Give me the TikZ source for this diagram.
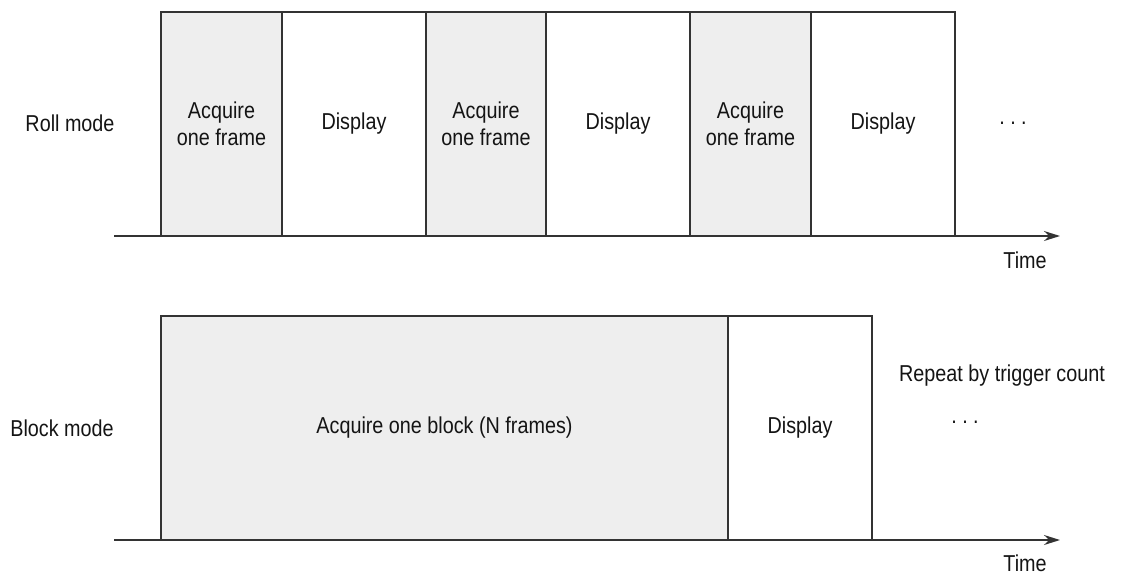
\documentclass[tikz,border=0pt]{standalone}
\usepackage{fontspec}
\setmainfont[FakeStretch=0.86]{Liberation Sans}
\usetikzlibrary{arrows.meta}
\definecolor{linec}{HTML}{333333}
\definecolor{fillc}{HTML}{EEEEEE}
\tikzset{
  base/.style={font=\fontsize{23}{27}\selectfont, text=black!92},
  box/.style={base, draw=linec, line width=1.3pt, inner sep=0pt, outer sep=0pt, align=center},
  acq/.style={box, fill=fillc},
  disp/.style={box, fill=white},
  lbl/.style={base, inner sep=0pt},
  axis/.style={draw=linec, line width=1.6pt, -{Stealth[length=16pt,width=10pt]}}
}
\begin{document}
\begin{tikzpicture}[x=1pt,y=-1pt]
\useasboundingbox (0,0) rectangle (1127,576);
% Roll mode
\node[lbl] (roll) at (70,123) {Roll mode};
\node[acq,  minimum width=121pt, minimum height=224pt] (a1) at (221.5,124) {Acquire\\one frame};
\node[disp, minimum width=144pt, minimum height=224pt] (d1) at (354,124) {Display};
\node[acq,  minimum width=120pt, minimum height=224pt] (a2) at (486,124) {Acquire\\one frame};
\node[disp, minimum width=144pt, minimum height=224pt] (d2) at (618,124) {Display};
\node[acq,  minimum width=121pt, minimum height=224pt] (a3) at (750.5,124) {Acquire\\one frame};
\node[disp, minimum width=144pt, minimum height=224pt] (d3) at (883,124) {Display};
\node[lbl] (dots1) at (1013,123) {.\ .\ .};
\coordinate (s1) at (114,236);
\coordinate (e1) at (1060,236);
\draw[axis] (s1) -- (e1);
\node[lbl] (t1) at (1025,260) {Time};
% Block mode
\node[lbl] (block) at (62,428) {Block mode};
\node[acq,  minimum width=567pt, minimum height=224pt] (ab) at (444.5,428) {Acquire one block (N frames)};
\node[disp, minimum width=144pt, minimum height=224pt] (db) at (800,428) {Display};
\node[lbl] (rep) at (1002,376) {Repeat by trigger count};
\node[lbl] (dots2) at (965,422) {.\ .\ .};
\coordinate (s2) at (114,540);
\coordinate (e2) at (1060,540);
\draw[axis] (s2) -- (e2);
\node[lbl] (t2) at (1025,563) {Time};
\end{tikzpicture}
\end{document}
